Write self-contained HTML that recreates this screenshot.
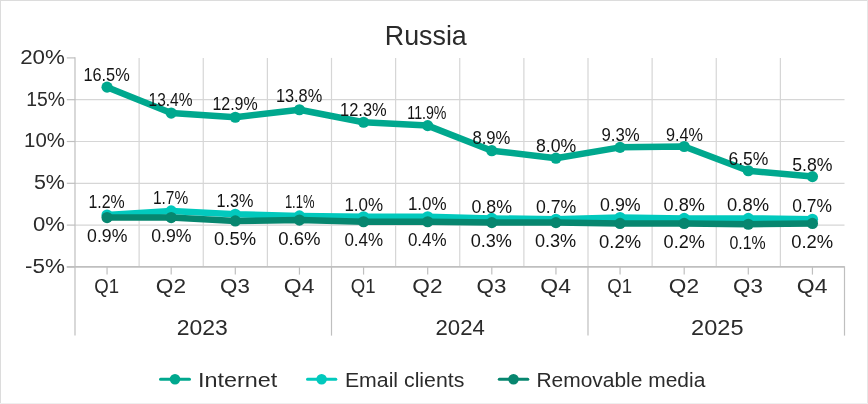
<!DOCTYPE html>
<html><head><meta charset="utf-8"><title>Russia</title>
<style>html,body{margin:0;padding:0;background:#fff}svg{display:block}</style></head>
<body>
<svg width="868" height="404" viewBox="0 0 868 404" font-family="'Liberation Sans', sans-serif" fill="#2b2b2b">
<rect x="0" y="0" width="868" height="404" fill="#fff"/>
<rect x="0" y="0" width="868" height="1" fill="#dcdcdc"/><rect x="0" y="0" width="1" height="404" fill="#dcdcdc"/>
<rect x="867" y="0" width="1" height="404" fill="#e6e6e6"/><rect x="0" y="403" width="868" height="1" fill="#efefef"/>
<line x1="139.12" y1="57.9" x2="139.12" y2="266.9" stroke="#d6d6d6" stroke-width="1.2"/>
<line x1="203.25" y1="57.9" x2="203.25" y2="266.9" stroke="#d6d6d6" stroke-width="1.2"/>
<line x1="267.38" y1="57.9" x2="267.38" y2="266.9" stroke="#d6d6d6" stroke-width="1.2"/>
<line x1="331.50" y1="57.9" x2="331.50" y2="266.9" stroke="#d6d6d6" stroke-width="1.2"/>
<line x1="395.62" y1="57.9" x2="395.62" y2="266.9" stroke="#d6d6d6" stroke-width="1.2"/>
<line x1="459.75" y1="57.9" x2="459.75" y2="266.9" stroke="#d6d6d6" stroke-width="1.2"/>
<line x1="523.88" y1="57.9" x2="523.88" y2="266.9" stroke="#d6d6d6" stroke-width="1.2"/>
<line x1="588.00" y1="57.9" x2="588.00" y2="266.9" stroke="#d6d6d6" stroke-width="1.2"/>
<line x1="652.12" y1="57.9" x2="652.12" y2="266.9" stroke="#d6d6d6" stroke-width="1.2"/>
<line x1="716.25" y1="57.9" x2="716.25" y2="266.9" stroke="#d6d6d6" stroke-width="1.2"/>
<line x1="780.38" y1="57.9" x2="780.38" y2="266.9" stroke="#d6d6d6" stroke-width="1.2"/>
<line x1="75.0" y1="99.70" x2="844.5" y2="99.70" stroke="#d6d6d6" stroke-width="1.2"/>
<line x1="75.0" y1="141.50" x2="844.5" y2="141.50" stroke="#d6d6d6" stroke-width="1.2"/>
<line x1="75.0" y1="183.30" x2="844.5" y2="183.30" stroke="#d6d6d6" stroke-width="1.2"/>
<line x1="75.0" y1="225.10" x2="844.5" y2="225.10" stroke="#d6d6d6" stroke-width="1.2"/>
<line x1="75.0" y1="57.3" x2="75.0" y2="266.9" stroke="#bfbfbf" stroke-width="1.2"/>
<line x1="66.8" y1="57.90" x2="75.0" y2="57.90" stroke="#bfbfbf" stroke-width="1.2"/>
<text x="20.20" y="63.80" font-size="20.67" textLength="44.70" lengthAdjust="spacingAndGlyphs" fill="#2b2b2b">20%</text>
<line x1="66.8" y1="99.70" x2="75.0" y2="99.70" stroke="#bfbfbf" stroke-width="1.2"/>
<text x="26.20" y="105.60" font-size="20.67" textLength="38.70" lengthAdjust="spacingAndGlyphs" fill="#2b2b2b">15%</text>
<line x1="66.8" y1="141.50" x2="75.0" y2="141.50" stroke="#bfbfbf" stroke-width="1.2"/>
<text x="24.10" y="147.40" font-size="20.67" textLength="40.80" lengthAdjust="spacingAndGlyphs" fill="#2b2b2b">10%</text>
<line x1="66.8" y1="183.30" x2="75.0" y2="183.30" stroke="#bfbfbf" stroke-width="1.2"/>
<text x="33.90" y="189.20" font-size="20.67" textLength="31.00" lengthAdjust="spacingAndGlyphs" fill="#2b2b2b">5%</text>
<line x1="66.8" y1="225.10" x2="75.0" y2="225.10" stroke="#bfbfbf" stroke-width="1.2"/>
<text x="33.00" y="231.00" font-size="20.67" textLength="31.90" lengthAdjust="spacingAndGlyphs" fill="#2b2b2b">0%</text>
<line x1="66.8" y1="266.90" x2="75.0" y2="266.90" stroke="#bfbfbf" stroke-width="1.2"/>
<text x="25.00" y="272.80" font-size="20.67" textLength="39.90" lengthAdjust="spacingAndGlyphs" fill="#2b2b2b">-5%</text>
<line x1="66.8" y1="266.9" x2="844.5" y2="266.9" stroke="#bfbfbf" stroke-width="1.6"/>
<line x1="75.00" y1="266.29999999999995" x2="75.00" y2="335.6" stroke="#bfbfbf" stroke-width="1.2"/>
<line x1="331.50" y1="266.29999999999995" x2="331.50" y2="335.6" stroke="#bfbfbf" stroke-width="1.2"/>
<line x1="588.00" y1="266.29999999999995" x2="588.00" y2="335.6" stroke="#bfbfbf" stroke-width="1.2"/>
<line x1="844.50" y1="266.29999999999995" x2="844.50" y2="335.6" stroke="#bfbfbf" stroke-width="1.2"/>
<line x1="107.06" y1="266.9" x2="107.06" y2="274.6" stroke="#bfbfbf" stroke-width="1.2"/>
<text x="94.36" y="292.90" font-size="20.39" textLength="24.80" lengthAdjust="spacingAndGlyphs" fill="#2b2b2b">Q1</text>
<line x1="171.19" y1="266.9" x2="171.19" y2="274.6" stroke="#bfbfbf" stroke-width="1.2"/>
<text x="155.79" y="292.90" font-size="20.39" textLength="30.20" lengthAdjust="spacingAndGlyphs" fill="#2b2b2b">Q2</text>
<line x1="235.31" y1="266.9" x2="235.31" y2="274.6" stroke="#bfbfbf" stroke-width="1.2"/>
<text x="220.11" y="292.90" font-size="20.39" textLength="29.80" lengthAdjust="spacingAndGlyphs" fill="#2b2b2b">Q3</text>
<line x1="299.44" y1="266.9" x2="299.44" y2="274.6" stroke="#bfbfbf" stroke-width="1.2"/>
<text x="283.84" y="292.90" font-size="20.39" textLength="30.60" lengthAdjust="spacingAndGlyphs" fill="#2b2b2b">Q4</text>
<line x1="363.56" y1="266.9" x2="363.56" y2="274.6" stroke="#bfbfbf" stroke-width="1.2"/>
<text x="350.86" y="292.90" font-size="20.39" textLength="24.80" lengthAdjust="spacingAndGlyphs" fill="#2b2b2b">Q1</text>
<line x1="427.69" y1="266.9" x2="427.69" y2="274.6" stroke="#bfbfbf" stroke-width="1.2"/>
<text x="412.29" y="292.90" font-size="20.39" textLength="30.20" lengthAdjust="spacingAndGlyphs" fill="#2b2b2b">Q2</text>
<line x1="491.81" y1="266.9" x2="491.81" y2="274.6" stroke="#bfbfbf" stroke-width="1.2"/>
<text x="476.61" y="292.90" font-size="20.39" textLength="29.80" lengthAdjust="spacingAndGlyphs" fill="#2b2b2b">Q3</text>
<line x1="555.94" y1="266.9" x2="555.94" y2="274.6" stroke="#bfbfbf" stroke-width="1.2"/>
<text x="540.34" y="292.90" font-size="20.39" textLength="30.60" lengthAdjust="spacingAndGlyphs" fill="#2b2b2b">Q4</text>
<line x1="620.06" y1="266.9" x2="620.06" y2="274.6" stroke="#bfbfbf" stroke-width="1.2"/>
<text x="607.36" y="292.90" font-size="20.39" textLength="24.80" lengthAdjust="spacingAndGlyphs" fill="#2b2b2b">Q1</text>
<line x1="684.19" y1="266.9" x2="684.19" y2="274.6" stroke="#bfbfbf" stroke-width="1.2"/>
<text x="668.79" y="292.90" font-size="20.39" textLength="30.20" lengthAdjust="spacingAndGlyphs" fill="#2b2b2b">Q2</text>
<line x1="748.31" y1="266.9" x2="748.31" y2="274.6" stroke="#bfbfbf" stroke-width="1.2"/>
<text x="733.11" y="292.90" font-size="20.39" textLength="29.80" lengthAdjust="spacingAndGlyphs" fill="#2b2b2b">Q3</text>
<line x1="812.44" y1="266.9" x2="812.44" y2="274.6" stroke="#bfbfbf" stroke-width="1.2"/>
<text x="796.84" y="292.90" font-size="20.39" textLength="30.60" lengthAdjust="spacingAndGlyphs" fill="#2b2b2b">Q4</text>
<text x="176.80" y="334.90" font-size="21.37" textLength="51.10" lengthAdjust="spacingAndGlyphs" fill="#2b2b2b">2023</text>
<text x="435.50" y="334.90" font-size="21.37" textLength="49.30" lengthAdjust="spacingAndGlyphs" fill="#2b2b2b">2024</text>
<text x="691.10" y="334.90" font-size="21.37" textLength="52.40" lengthAdjust="spacingAndGlyphs" fill="#2b2b2b">2025</text>
<text x="384.80" y="44.60" font-size="27.23" textLength="82.00" lengthAdjust="spacingAndGlyphs" fill="#2b2b2b">Russia</text>
<polyline points="107.06,87.16 171.19,113.08 235.31,117.26 299.44,109.73 363.56,122.27 427.69,125.62 491.81,150.70 555.94,158.22 620.06,147.35 684.19,146.52 748.31,170.76 812.44,176.61" fill="none" stroke="#00a88e" stroke-width="6.5" stroke-linejoin="round" stroke-linecap="round"/>
<circle cx="107.06" cy="87.16" r="5.6" fill="#00a88e"/>
<circle cx="171.19" cy="113.08" r="5.6" fill="#00a88e"/>
<circle cx="235.31" cy="117.26" r="5.6" fill="#00a88e"/>
<circle cx="299.44" cy="109.73" r="5.6" fill="#00a88e"/>
<circle cx="363.56" cy="122.27" r="5.6" fill="#00a88e"/>
<circle cx="427.69" cy="125.62" r="5.6" fill="#00a88e"/>
<circle cx="491.81" cy="150.70" r="5.6" fill="#00a88e"/>
<circle cx="555.94" cy="158.22" r="5.6" fill="#00a88e"/>
<circle cx="620.06" cy="147.35" r="5.6" fill="#00a88e"/>
<circle cx="684.19" cy="146.52" r="5.6" fill="#00a88e"/>
<circle cx="748.31" cy="170.76" r="5.6" fill="#00a88e"/>
<circle cx="812.44" cy="176.61" r="5.6" fill="#00a88e"/>
<polyline points="107.06,215.07 171.19,210.89 235.31,214.23 299.44,215.90 363.56,216.74 427.69,216.74 491.81,218.41 555.94,219.25 620.06,217.58 684.19,218.41 748.31,218.41 812.44,219.25" fill="none" stroke="#02c9bd" stroke-width="6.5" stroke-linejoin="round" stroke-linecap="round"/>
<circle cx="107.06" cy="215.07" r="5.6" fill="#02c9bd"/>
<circle cx="171.19" cy="210.89" r="5.6" fill="#02c9bd"/>
<circle cx="235.31" cy="214.23" r="5.6" fill="#02c9bd"/>
<circle cx="299.44" cy="215.90" r="5.6" fill="#02c9bd"/>
<circle cx="363.56" cy="216.74" r="5.6" fill="#02c9bd"/>
<circle cx="427.69" cy="216.74" r="5.6" fill="#02c9bd"/>
<circle cx="491.81" cy="218.41" r="5.6" fill="#02c9bd"/>
<circle cx="555.94" cy="219.25" r="5.6" fill="#02c9bd"/>
<circle cx="620.06" cy="217.58" r="5.6" fill="#02c9bd"/>
<circle cx="684.19" cy="218.41" r="5.6" fill="#02c9bd"/>
<circle cx="748.31" cy="218.41" r="5.6" fill="#02c9bd"/>
<circle cx="812.44" cy="219.25" r="5.6" fill="#02c9bd"/>
<polyline points="107.06,217.58 171.19,217.58 235.31,220.92 299.44,220.08 363.56,221.76 427.69,221.76 491.81,222.59 555.94,222.59 620.06,223.43 684.19,223.43 748.31,224.26 812.44,223.43" fill="none" stroke="#07866f" stroke-width="6.5" stroke-linejoin="round" stroke-linecap="round"/>
<circle cx="107.06" cy="217.58" r="5.6" fill="#07866f"/>
<circle cx="171.19" cy="217.58" r="5.6" fill="#07866f"/>
<circle cx="235.31" cy="220.92" r="5.6" fill="#07866f"/>
<circle cx="299.44" cy="220.08" r="5.6" fill="#07866f"/>
<circle cx="363.56" cy="221.76" r="5.6" fill="#07866f"/>
<circle cx="427.69" cy="221.76" r="5.6" fill="#07866f"/>
<circle cx="491.81" cy="222.59" r="5.6" fill="#07866f"/>
<circle cx="555.94" cy="222.59" r="5.6" fill="#07866f"/>
<circle cx="620.06" cy="223.43" r="5.6" fill="#07866f"/>
<circle cx="684.19" cy="223.43" r="5.6" fill="#07866f"/>
<circle cx="748.31" cy="224.26" r="5.6" fill="#07866f"/>
<circle cx="812.44" cy="223.43" r="5.6" fill="#07866f"/>
<text x="83.40" y="80.70" font-size="18.16" textLength="46.30" lengthAdjust="spacingAndGlyphs" fill="#141414">16.5%</text>
<text x="148.60" y="105.80" font-size="18.16" textLength="43.90" lengthAdjust="spacingAndGlyphs" fill="#141414">13.4%</text>
<text x="212.40" y="110.10" font-size="18.16" textLength="45.30" lengthAdjust="spacingAndGlyphs" fill="#141414">12.9%</text>
<text x="275.90" y="102.40" font-size="18.16" textLength="46.30" lengthAdjust="spacingAndGlyphs" fill="#141414">13.8%</text>
<text x="340.10" y="115.70" font-size="18.16" textLength="46.60" lengthAdjust="spacingAndGlyphs" fill="#141414">12.3%</text>
<text x="407.30" y="119.40" font-size="18.16" textLength="39.20" lengthAdjust="spacingAndGlyphs" fill="#141414">11.9%</text>
<text x="472.40" y="143.50" font-size="18.16" textLength="38.00" lengthAdjust="spacingAndGlyphs" fill="#141414">8.9%</text>
<text x="535.90" y="151.80" font-size="18.16" textLength="40.30" lengthAdjust="spacingAndGlyphs" fill="#141414">8.0%</text>
<text x="601.50" y="140.70" font-size="18.16" textLength="38.20" lengthAdjust="spacingAndGlyphs" fill="#141414">9.3%</text>
<text x="665.90" y="140.70" font-size="18.16" textLength="37.00" lengthAdjust="spacingAndGlyphs" fill="#141414">9.4%</text>
<text x="728.40" y="164.80" font-size="18.16" textLength="40.00" lengthAdjust="spacingAndGlyphs" fill="#141414">6.5%</text>
<text x="792.20" y="170.80" font-size="18.16" textLength="40.30" lengthAdjust="spacingAndGlyphs" fill="#141414">5.8%</text>
<text x="88.40" y="208.40" font-size="18.16" textLength="36.30" lengthAdjust="spacingAndGlyphs" fill="#141414">1.2%</text>
<text x="152.90" y="204.40" font-size="18.16" textLength="35.30" lengthAdjust="spacingAndGlyphs" fill="#141414">1.7%</text>
<text x="216.40" y="207.40" font-size="18.16" textLength="36.90" lengthAdjust="spacingAndGlyphs" fill="#141414">1.3%</text>
<text x="284.90" y="208.40" font-size="18.16" textLength="29.60" lengthAdjust="spacingAndGlyphs" fill="#141414">1.1%</text>
<text x="344.40" y="211.00" font-size="18.16" textLength="38.70" lengthAdjust="spacingAndGlyphs" fill="#141414">1.0%</text>
<text x="407.90" y="209.70" font-size="18.16" textLength="38.70" lengthAdjust="spacingAndGlyphs" fill="#141414">1.0%</text>
<text x="471.40" y="212.70" font-size="18.16" textLength="40.60" lengthAdjust="spacingAndGlyphs" fill="#141414">0.8%</text>
<text x="535.90" y="212.70" font-size="18.16" textLength="40.30" lengthAdjust="spacingAndGlyphs" fill="#141414">0.7%</text>
<text x="600.10" y="211.00" font-size="18.16" textLength="40.60" lengthAdjust="spacingAndGlyphs" fill="#141414">0.9%</text>
<text x="663.60" y="211.00" font-size="18.16" textLength="41.30" lengthAdjust="spacingAndGlyphs" fill="#141414">0.8%</text>
<text x="727.10" y="211.00" font-size="18.16" textLength="41.90" lengthAdjust="spacingAndGlyphs" fill="#141414">0.8%</text>
<text x="792.20" y="212.40" font-size="18.16" textLength="39.70" lengthAdjust="spacingAndGlyphs" fill="#141414">0.7%</text>
<text x="87.10" y="241.80" font-size="18.16" textLength="40.30" lengthAdjust="spacingAndGlyphs" fill="#141414">0.9%</text>
<text x="151.20" y="241.80" font-size="18.16" textLength="40.30" lengthAdjust="spacingAndGlyphs" fill="#141414">0.9%</text>
<text x="214.10" y="245.10" font-size="18.16" textLength="41.90" lengthAdjust="spacingAndGlyphs" fill="#141414">0.5%</text>
<text x="278.20" y="244.50" font-size="18.16" textLength="42.30" lengthAdjust="spacingAndGlyphs" fill="#141414">0.6%</text>
<text x="344.40" y="245.80" font-size="18.16" textLength="38.70" lengthAdjust="spacingAndGlyphs" fill="#141414">0.4%</text>
<text x="407.90" y="245.80" font-size="18.16" textLength="38.70" lengthAdjust="spacingAndGlyphs" fill="#141414">0.4%</text>
<text x="470.70" y="246.80" font-size="18.16" textLength="41.30" lengthAdjust="spacingAndGlyphs" fill="#141414">0.3%</text>
<text x="534.90" y="246.80" font-size="18.16" textLength="41.30" lengthAdjust="spacingAndGlyphs" fill="#141414">0.3%</text>
<text x="599.10" y="247.50" font-size="18.16" textLength="42.00" lengthAdjust="spacingAndGlyphs" fill="#141414">0.2%</text>
<text x="663.60" y="247.50" font-size="18.16" textLength="41.30" lengthAdjust="spacingAndGlyphs" fill="#141414">0.2%</text>
<text x="729.40" y="248.50" font-size="18.16" textLength="36.30" lengthAdjust="spacingAndGlyphs" fill="#141414">0.1%</text>
<text x="791.20" y="247.50" font-size="18.16" textLength="42.00" lengthAdjust="spacingAndGlyphs" fill="#141414">0.2%</text>
<line x1="160.5" y1="379.2" x2="189.5" y2="379.2" stroke="#00a88e" stroke-width="3" stroke-linecap="round"/>
<circle cx="175" cy="379.2" r="5.3" fill="#00a88e"/>
<text x="197.90" y="386.70" font-size="19.83" textLength="79.40" lengthAdjust="spacingAndGlyphs" fill="#2b2b2b">Internet</text>
<line x1="307.5" y1="379.2" x2="335.8" y2="379.2" stroke="#02c9bd" stroke-width="3" stroke-linecap="round"/>
<circle cx="321.6" cy="379.2" r="5.3" fill="#02c9bd"/>
<text x="344.90" y="386.70" font-size="19.83" textLength="119.40" lengthAdjust="spacingAndGlyphs" fill="#2b2b2b">Email clients</text>
<line x1="499.3" y1="379.2" x2="527.8" y2="379.2" stroke="#07866f" stroke-width="3" stroke-linecap="round"/>
<circle cx="513.5" cy="379.2" r="5.3" fill="#07866f"/>
<text x="536.40" y="386.70" font-size="19.83" textLength="168.90" lengthAdjust="spacingAndGlyphs" fill="#2b2b2b">Removable media</text>
</svg>
</body></html>
